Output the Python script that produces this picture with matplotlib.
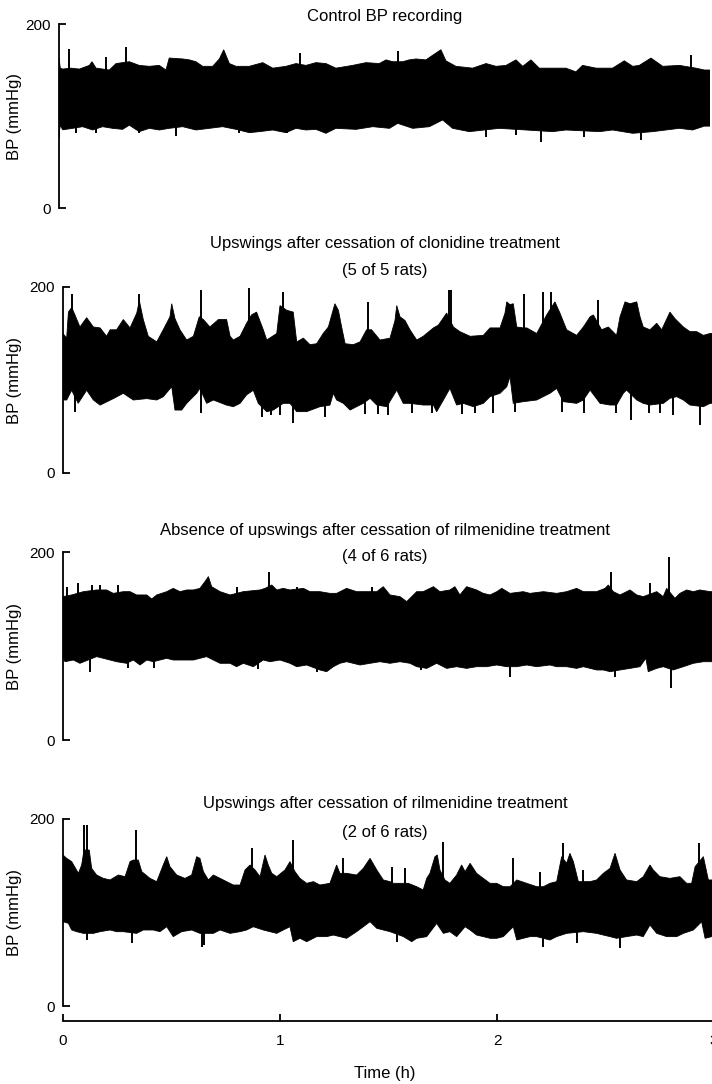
import numpy as np
import matplotlib.pyplot as plt

plt.rcParams['font.family'] = ['Liberation Sans', 'DejaVu Sans']

# envelopes: time (h) and BP (mmHg)
# panel 1 - control recording
p1_up_t = [0.0, 0.006, 0.017, 0.055, 0.094, 0.140, 0.152, 0.171, 0.232, 0.263, 0.293, 0.324, 0.370, 0.416, 0.462,
           0.493, 0.508, 0.570, 0.601, 0.631, 0.662, 0.708, 0.739, 0.759, 0.785, 0.816, 0.877, 0.939, 0.985, 1.046,
           1.092, 1.138, 1.184, 1.230, 1.276, 1.353, 1.415, 1.476, 1.507, 1.538, 1.584, 1.614, 1.645, 1.691, 1.722,
           1.760, 1.783, 1.829, 1.906, 1.968, 2.014, 2.060, 2.106, 2.137, 2.175, 2.213, 2.275, 2.336, 2.382, 2.413,
           2.475, 2.551, 2.605, 2.644, 2.674, 2.728, 2.782, 2.859, 2.935, 2.974, 3.0]
p1_up_v = [163, 152, 151, 152, 151, 155, 159, 152, 150, 157, 158, 159, 155, 154, 155,
           150, 163, 162, 161, 159, 154, 154, 162, 172, 157, 154, 154, 158, 152, 154,
           157, 155, 158, 157, 152, 155, 158, 157, 161, 159, 159, 161, 162, 161, 166,
           172, 160, 154, 152, 157, 154, 155, 161, 154, 161, 152, 152, 152, 148, 155,
           152, 152, 160, 154, 155, 163, 154, 155, 152, 150, 150]
p1_lo_t = [0.0, 0.006, 0.017, 0.063, 0.109, 0.155, 0.201, 0.247, 0.293, 0.324, 0.370, 0.416, 0.462, 0.508, 0.570,
           0.631, 0.693, 0.754, 0.816, 0.877, 0.923, 0.985, 1.046, 1.092, 1.138, 1.184, 1.230, 1.276, 1.369, 1.446,
           1.523, 1.561, 1.630, 1.707, 1.768, 1.814, 1.891, 2.029, 2.152, 2.275, 2.336, 2.490, 2.551, 2.644, 2.736,
           2.797, 2.859, 2.920, 2.974, 3.0]
p1_lo_v = [80, 90, 85, 86.6, 88.4, 84.8, 88.4, 86.6, 85.5, 90, 83, 86.6, 84.8, 86.6, 88.4,
           84.8, 86.6, 88.4, 85.5, 81.9, 83, 84.8, 81.9, 86.6, 84.8, 85.5, 81.2, 86.6, 85.5, 88.4,
           86.6, 92, 86.6, 88.4, 95.7, 86.6, 83, 86.6, 84.8, 83, 84.8, 83, 84.8, 81.2, 83,
           84.8, 86.6, 84.8, 89, 89]
p1_spk_t = [0.045, 0.217, 0.309, 1.111, 1.561, 2.912]
p1_spk_v = [172.5, 164, 174.6, 168, 171, 166]
p1_dip_t = [0.002, 0.078, 0.170, 0.370, 0.539, 0.830, 1.050, 1.230, 1.968, 2.106, 2.221, 2.421, 2.682]
p1_dip_v = [76, 81, 81, 81, 78, 81, 81, 81, 77.5, 79.3, 72, 77.5, 74]

# panel 2 - after clonidine
p2_up_t = [0.0, 0.017, 0.025, 0.040, 0.055, 0.078, 0.109, 0.140, 0.171, 0.201,
           0.217, 0.247, 0.278, 0.309, 0.340, 0.352, 0.370, 0.393, 0.432, 0.462,
           0.493, 0.501, 0.516, 0.539, 0.570, 0.601, 0.628, 0.647, 0.677, 0.716,
           0.754, 0.770, 0.785, 0.816, 0.846, 0.869, 0.892, 0.923, 0.939, 0.985,
           1.0, 1.031, 1.061, 1.077, 1.108, 1.138, 1.169, 1.199, 1.223, 1.253,
           1.269, 1.284, 1.300, 1.338, 1.369, 1.399, 1.422, 1.461, 1.507, 1.530,
           1.538, 1.553, 1.576, 1.599, 1.630, 1.660, 1.707, 1.730, 1.768, 1.799,
           1.829, 1.876, 1.937, 1.968, 2.014, 2.037, 2.045, 2.060, 2.075, 2.091,
           2.121, 2.137, 2.183, 2.229, 2.267, 2.290, 2.321, 2.367, 2.398, 2.429,
           2.444, 2.482, 2.513, 2.551, 2.567, 2.590, 2.613, 2.644, 2.659, 2.674,
           2.705, 2.736, 2.759, 2.797, 2.820, 2.859, 2.889, 2.920, 2.951, 2.982, 3.0]
p2_up_v = [150, 145, 173, 178, 170, 157, 167, 157, 156, 147,
           154, 154, 165, 156, 172, 185, 165, 147, 141, 154,
           168, 182, 166, 154, 143, 147, 168, 165, 157, 165,
           165, 147, 143, 147, 161, 170, 173, 154, 143, 150,
           180, 175, 173, 141, 145, 138, 139, 150, 157, 182,
           175, 157, 139, 138, 141, 154, 154, 143, 145, 164,
           180, 168, 164, 154, 143, 147, 156, 159, 172, 157,
           152, 147, 148, 156, 156, 172, 184, 181, 182, 157,
           156, 156, 150, 170, 184, 172, 154, 148, 157, 168,
           170, 154, 157, 148, 168, 184, 182, 184, 168, 157,
           154, 161, 154, 173, 166, 157, 152, 152, 148, 150, 150]
p2_lo_t = [0.0, 0.017, 0.040, 0.070, 0.109, 0.140, 0.171, 0.232, 0.278, 0.324,
           0.386, 0.432, 0.462, 0.501, 0.516, 0.547, 0.570, 0.616, 0.631, 0.662,
           0.693, 0.754, 0.785, 0.816, 0.846, 0.877, 0.900, 0.939, 0.969, 1.015,
           1.046, 1.077, 1.123, 1.184, 1.230, 1.246, 1.261, 1.292, 1.323, 1.353,
           1.384, 1.415, 1.446, 1.492, 1.538, 1.568, 1.599, 1.660, 1.707, 1.722,
           1.753, 1.783, 1.814, 1.845, 1.891, 1.937, 1.968, 2.014, 2.045, 2.060,
           2.075, 2.121, 2.183, 2.213, 2.244, 2.275, 2.306, 2.367, 2.398, 2.429,
           2.475, 2.521, 2.551, 2.582, 2.597, 2.644, 2.674, 2.705, 2.767, 2.797,
           2.828, 2.859, 2.889, 2.951, 2.982, 3.0]
p2_lo_v = [78.5, 78.5, 89, 74.9, 89, 78.5, 73, 80, 85.7, 78.5,
           80, 78.5, 82, 92.8, 67.7, 67.7, 74.9, 85.7, 91, 74.9,
           78.5, 73, 71.3, 74.9, 84, 89, 74.9, 65.9, 67.7, 74.9,
           74.9, 66, 66, 71.3, 73, 85.7, 78.5, 74.9, 67.7, 71.3,
           74.9, 80.3, 73.1, 71.3, 89.2, 74.9, 74.9, 73.1, 73.1, 65.9,
           78.5, 91, 73.1, 74.9, 71.3, 74.9, 82.1, 85.7, 92.8, 103.6,
           74.9, 76.7, 78.5, 82.1, 85.7, 91, 76.7, 74.9, 78.5, 89.2,
           74.9, 73.1, 73.1, 85.7, 89.2, 78.5, 74.9, 73.1, 74.9, 80.3,
           82.1, 78.5, 73.1, 71.3, 74.9, 75]
p2_spk_t = [0.040, 0.352, 0.634, 0.859, 1.012, 1.407, 1.777, 1.788, 2.124, 2.210, 2.247, 2.467]
p2_spk_v = [193, 193, 197, 198.6, 195, 184, 197, 197, 193, 195, 195, 186]
p2_dip_t = [0.055, 0.634, 0.915, 0.960, 1.0, 1.061, 1.207, 1.39, 1.45, 1.499, 1.61, 1.70,
            1.84, 1.90, 1.98, 2.083, 2.299, 2.40, 2.55, 2.618, 2.70, 2.75, 2.81, 2.935]
p2_dip_v = [66, 64.2, 60.6, 62, 62, 53.4, 60.6, 63, 63, 62.4, 64, 64,
            63, 64, 65, 65.9, 65.9, 65, 64, 57, 65, 64, 62, 51.6]

# panel 3 - rilmenidine, no upswings
p3_up_t = [0.0, 0.040, 0.094, 0.155, 0.201, 0.232, 0.278, 0.309, 0.339, 0.386,
           0.409, 0.432, 0.478, 0.508, 0.539, 0.570, 0.601, 0.631, 0.654, 0.670,
           0.685, 0.724, 0.770, 0.831, 0.877, 0.908, 0.931, 0.962, 0.985, 1.015,
           1.046, 1.108, 1.138, 1.184, 1.230, 1.261, 1.307, 1.353, 1.446, 1.476,
           1.507, 1.553, 1.584, 1.630, 1.660, 1.707, 1.737, 1.783, 1.806, 1.829,
           1.860, 1.906, 1.937, 1.968, 1.999, 2.022, 2.060, 2.121, 2.152, 2.214,
           2.275, 2.321, 2.367, 2.398, 2.459, 2.498, 2.513, 2.536, 2.567, 2.613,
           2.644, 2.674, 2.736, 2.766, 2.782, 2.820, 2.843, 2.874, 2.905, 2.935,
           2.982, 3.0]
p3_up_v = [152.5, 154.3, 157.8, 159.6, 159.6, 156, 157.8, 157.8, 154.3, 154.3,
           150, 154.3, 157.8, 161.3, 157.8, 159.6, 159.6, 161.3, 168.4, 173.8,
           163.1, 157.8, 154.3, 157.8, 158.9, 159.6, 161.3, 164.9, 159.6, 161.3,
           159.6, 161.3, 157.8, 157.8, 156, 156, 161.3, 157.8, 157.8, 163.1,
           154.3, 152.5, 147.2, 157.8, 157.8, 163.1, 157.8, 159.6, 163.1, 154.3,
           163.1, 159.6, 156, 154.3, 157.8, 161.3, 156, 157.8, 156, 157.8,
           156, 157.8, 161.3, 157.8, 157.8, 161.3, 164.9, 157.8, 154.3, 159.6,
           154.3, 152.5, 157.8, 152.5, 161.3, 150.7, 156, 159.6, 157.8, 159.6,
           157.8, 157.8]
p3_lo_t = [0.0, 0.009, 0.048, 0.078, 0.155, 0.186, 0.217, 0.247, 0.293, 0.324,
           0.355, 0.386, 0.416, 0.478, 0.508, 0.555, 0.601, 0.631, 0.662, 0.693,
           0.724, 0.770, 0.800, 0.831, 0.877, 0.923, 0.954, 1.0, 1.046, 1.077,
           1.123, 1.184, 1.215, 1.246, 1.276, 1.307, 1.369, 1.415, 1.461, 1.507,
           1.553, 1.599, 1.630, 1.676, 1.722, 1.768, 1.814, 1.860, 1.906, 1.952,
           1.999, 2.045, 2.091, 2.137, 2.183, 2.244, 2.275, 2.321, 2.367, 2.398,
           2.459, 2.490, 2.521, 2.567, 2.613, 2.659, 2.686, 2.697, 2.736, 2.766,
           2.812, 2.859, 2.905, 2.951, 2.982, 3.0]
p3_lo_v = [88.7, 83.3, 85.1, 81.6, 88.7, 86.9, 85.1, 83.3, 81.6, 85.1,
           79.8, 85.1, 83.3, 86.9, 85.1, 85.1, 85.1, 86.9, 88.7, 85.1,
           81.6, 81.6, 78, 81.6, 78, 85.1, 83.3, 85.1, 81.6, 78,
           79.8, 74.5, 72.7, 78, 81.6, 83.3, 79.8, 81.6, 83.3, 81.6,
           83.3, 81.6, 78, 76.2, 81.6, 76.2, 78, 76.2, 78, 78,
           79.8, 78, 78, 79.8, 78, 79.8, 78, 78, 76.2, 78,
           74.5, 74.5, 72.7, 74.5, 76.2, 78, 86.9, 72.7, 76.2, 78,
           74.5, 78, 81.6, 83.3, 83.3, 83.3]
p3_spk_t = [0.017, 0.071, 0.132, 0.171, 0.255, 0.800, 0.951, 1.077, 1.422, 2.524, 2.705, 2.794]
p3_spk_v = [163, 166.7, 165, 165, 165, 163, 179, 163, 163, 178.7, 166.7, 195]
p3_dip_t = [0.124, 0.300, 0.420, 0.900, 1.170, 1.650, 2.060, 2.544, 2.800]
p3_dip_v = [72.7, 77, 77, 76, 72, 74, 67.4, 67.4, 55]

# panel 4 - rilmenidine, upswings
p4_up_t = [0.0, 0.017, 0.040, 0.071, 0.086, 0.097, 0.121, 0.132, 0.155, 0.186,
           0.217, 0.255, 0.286, 0.309, 0.324, 0.347, 0.363, 0.401, 0.432, 0.462,
           0.478, 0.493, 0.524, 0.562, 0.593, 0.616, 0.631, 0.647, 0.670, 0.693,
           0.724, 0.754, 0.785, 0.816, 0.839, 0.862, 0.885, 0.908, 0.931, 0.946,
           0.962, 0.985, 1.023, 1.046, 1.069, 1.092, 1.123, 1.154, 1.184, 1.230,
           1.261, 1.276, 1.307, 1.353, 1.384, 1.415, 1.446, 1.476, 1.507, 1.523,
           1.553, 1.591, 1.630, 1.660, 1.676, 1.691, 1.714, 1.725, 1.737, 1.760,
           1.783, 1.814, 1.837, 1.853, 1.876, 1.906, 1.937, 1.968, 1.999, 2.029,
           2.060, 2.091, 2.137, 2.183, 2.214, 2.244, 2.275, 2.298, 2.321, 2.336,
           2.352, 2.375, 2.429, 2.459, 2.490, 2.521, 2.544, 2.567, 2.597, 2.644,
           2.674, 2.705, 2.720, 2.751, 2.797, 2.843, 2.874, 2.897, 2.913, 2.951,
           2.974, 3.0]
p4_up_v = [161.5, 157.9, 154.4, 141.9, 150.8, 166.8, 166.8, 147.2, 140.1, 136.5,
           134.8, 140.1, 138.3, 154.4, 156.1, 156.1, 143.7, 136.5, 133, 150.8,
           159.7, 149, 140.1, 136.5, 140.1, 159.7, 157.9, 143.7, 134.8, 140.1,
           136.5, 133, 129.4, 129.4, 145.5, 150.8, 145.5, 138.3, 161.5, 150.8,
           141.9, 138.3, 145.5, 154.4, 143.7, 136.5, 131.2, 133, 129.4, 131.2,
           150.8, 141.9, 141.9, 140.1, 147.2, 157.9, 145.5, 134.8, 133, 131.2,
           131.2, 131.2, 127.6, 124.1, 136.5, 141.9, 159.7, 161.5, 145.5, 134.8,
           131.2, 140.1, 150.8, 143.7, 152.6, 141.9, 136.5, 131.2, 131.2, 127.6,
           127.6, 134.8, 131.2, 127.6, 127.6, 131.2, 133, 159.7, 152.6, 163.3,
           154.4, 133, 133, 134.8, 141.9, 147.2, 163.3, 145.5, 134.8, 133,
           138.3, 150.8, 145.5, 138.3, 136.5, 138.3, 131.2, 131.2, 149, 159.7,
           134.8, 134.8]
p4_lo_t = [0.0, 0.025, 0.040, 0.063, 0.094, 0.140, 0.171, 0.217, 0.247, 0.278,
           0.339, 0.370, 0.416, 0.447, 0.478, 0.508, 0.547, 0.593, 0.631, 0.693,
           0.724, 0.770, 0.816, 0.846, 0.877, 0.923, 0.954, 0.985, 1.015, 1.046,
           1.061, 1.092, 1.123, 1.169, 1.215, 1.246, 1.276, 1.307, 1.353, 1.384,
           1.415, 1.446, 1.476, 1.507, 1.569, 1.607, 1.630, 1.676, 1.722, 1.753,
           1.783, 1.814, 1.853, 1.876, 1.906, 1.937, 1.968, 1.999, 2.029, 2.075,
           2.091, 2.121, 2.152, 2.183, 2.244, 2.275, 2.321, 2.398, 2.459, 2.490,
           2.521, 2.551, 2.597, 2.644, 2.674, 2.705, 2.736, 2.782, 2.828, 2.859,
           2.905, 2.928, 2.943, 2.959, 2.989, 3.0]
p4_lo_v = [90.2, 88.4, 81.3, 79.5, 77.7, 77.7, 79.5, 81.3, 79.5, 79.5,
           77.7, 81.3, 81.3, 79.5, 84.8, 74.2, 79.5, 81.3, 77.7, 77.7,
           81.3, 77.7, 79.5, 81.3, 84.8, 81.3, 79.5, 77.7, 81.3, 84.8,
           68.8, 72.4, 68.8, 74.2, 74.2, 75.9, 74.2, 72.4, 79.5, 84.8,
           90.2, 83.1, 81.3, 79.5, 74.2, 68.8, 72.4, 74.2, 88.4, 77.7,
           79.5, 74.2, 84.8, 81.3, 75.9, 74.2, 72.4, 72.4, 74.2, 84.8,
           70.6, 72.4, 74.2, 74.2, 70.6, 74.2, 77.7, 79.5, 77.7, 75.9,
           74.2, 72.4, 74.2, 75.9, 74.2, 86.6, 77.7, 74.2, 74.2, 77.7,
           81.3, 86.6, 90.2, 72.4, 74.2, 74.2]
p4_spk_t = [0.097, 0.112, 0.336, 0.869, 1.058, 1.292, 1.515, 1.576, 1.750, 2.075, 2.198, 2.306, 2.398, 2.933]
p4_spk_v = [193.6, 193.6, 188.2, 168.6, 177.5, 157.9, 149, 147.2, 175.8, 158, 143.7, 174, 145.5, 174]
p4_dip_t = [0.112, 0.316, 0.639, 0.650, 1.538, 2.214, 2.367, 2.567]
p4_dip_v = [70.6, 67, 63.5, 65, 68.8, 63.5, 67, 61.7]

titles = [["Control BP recording"],
          ["Upswings after cessation of clonidine treatment", "(5 of 5 rats)"],
          ["Absence of upswings after cessation of rilmenidine treatment", "(4 of 6 rats)"],
          ["Upswings after cessation of rilmenidine treatment", "(2 of 6 rats)"]]
time_ticks = [0, 1, 2, 3]
bp_ticks = [0, 200]

W, H = 712, 1084
fig = plt.figure(figsize=(W / 100, H / 100), dpi=100)

# pixel boxes of each panel: left, top(200), bottom(0)
boxes = [(59, 24, 208), (63, 287, 473), (63, 552, 740), (63, 819, 1006)]
title_base = [[21], [248, 275], [535, 561], [808, 837]]
traces = [
    (p1_up_t, p1_up_v, p1_lo_t, p1_lo_v, p1_spk_t, p1_spk_v, p1_dip_t, p1_dip_v),
    (p2_up_t, p2_up_v, p2_lo_t, p2_lo_v, p2_spk_t, p2_spk_v, p2_dip_t, p2_dip_v),
    (p3_up_t, p3_up_v, p3_lo_t, p3_lo_v, p3_spk_t, p3_spk_v, p3_dip_t, p3_dip_v),
    (p4_up_t, p4_up_v, p4_lo_t, p4_lo_v, p4_spk_t, p4_spk_v, p4_dip_t, p4_dip_v),
]

for i, (box, tr) in enumerate(zip(boxes, traces)):
    left, top, bot = box
    ax = fig.add_axes([left / W, 1 - bot / H, 651 / W, (bot - top) / H])
    up_t, up_v, lo_t, lo_v, spk_t, spk_v, dip_t, dip_v = [np.asarray(a, float) for a in tr]

    xs = np.concatenate([up_t, lo_t[::-1]])
    ys = np.concatenate([up_v, lo_v[::-1]])
    ax.fill(xs, ys, color='black', lw=0.6)
    ax.vlines(spk_t, 115, spk_v, color='black', lw=1.4)
    ax.vlines(dip_t, 110, dip_v, color='black', lw=1.4)

    ax.set_xlim(0, 3)
    ax.set_ylim(0, 200)
    ax.set_yticks(bp_ticks)
    for s in ['top', 'right']:
        ax.spines[s].set_visible(False)
    ax.spines['left'].set_linewidth(1.3)
    ax.tick_params(axis='y', direction='in', length=5, width=1.3, pad=6, labelsize=11)

    if i < 3:
        ax.spines['bottom'].set_visible(False)
        ax.set_xticks([])
    else:
        ax.spines['bottom'].set_position(('outward', 11))
        ax.spines['bottom'].set_linewidth(1.3)
        ax.set_xticks(time_ticks)
        ax.tick_params(axis='x', direction='in', length=5, width=1.3, pad=9, labelsize=11)

    for txt, yb in zip(titles[i], title_base[i]):
        fig.text(385 / W, 1 - yb / H, txt, ha='center', va='baseline', fontsize=12)
    fig.text(15 / W, 1 - (top + bot) / 2 / H, 'BP (mmHg)', rotation=90,
             ha='center', va='center', fontsize=12)

fig.text(385 / W, 1 - 1078 / H, 'Time (h)', ha='center', va='baseline', fontsize=12)

fig.savefig('out.png', dpi=100)
